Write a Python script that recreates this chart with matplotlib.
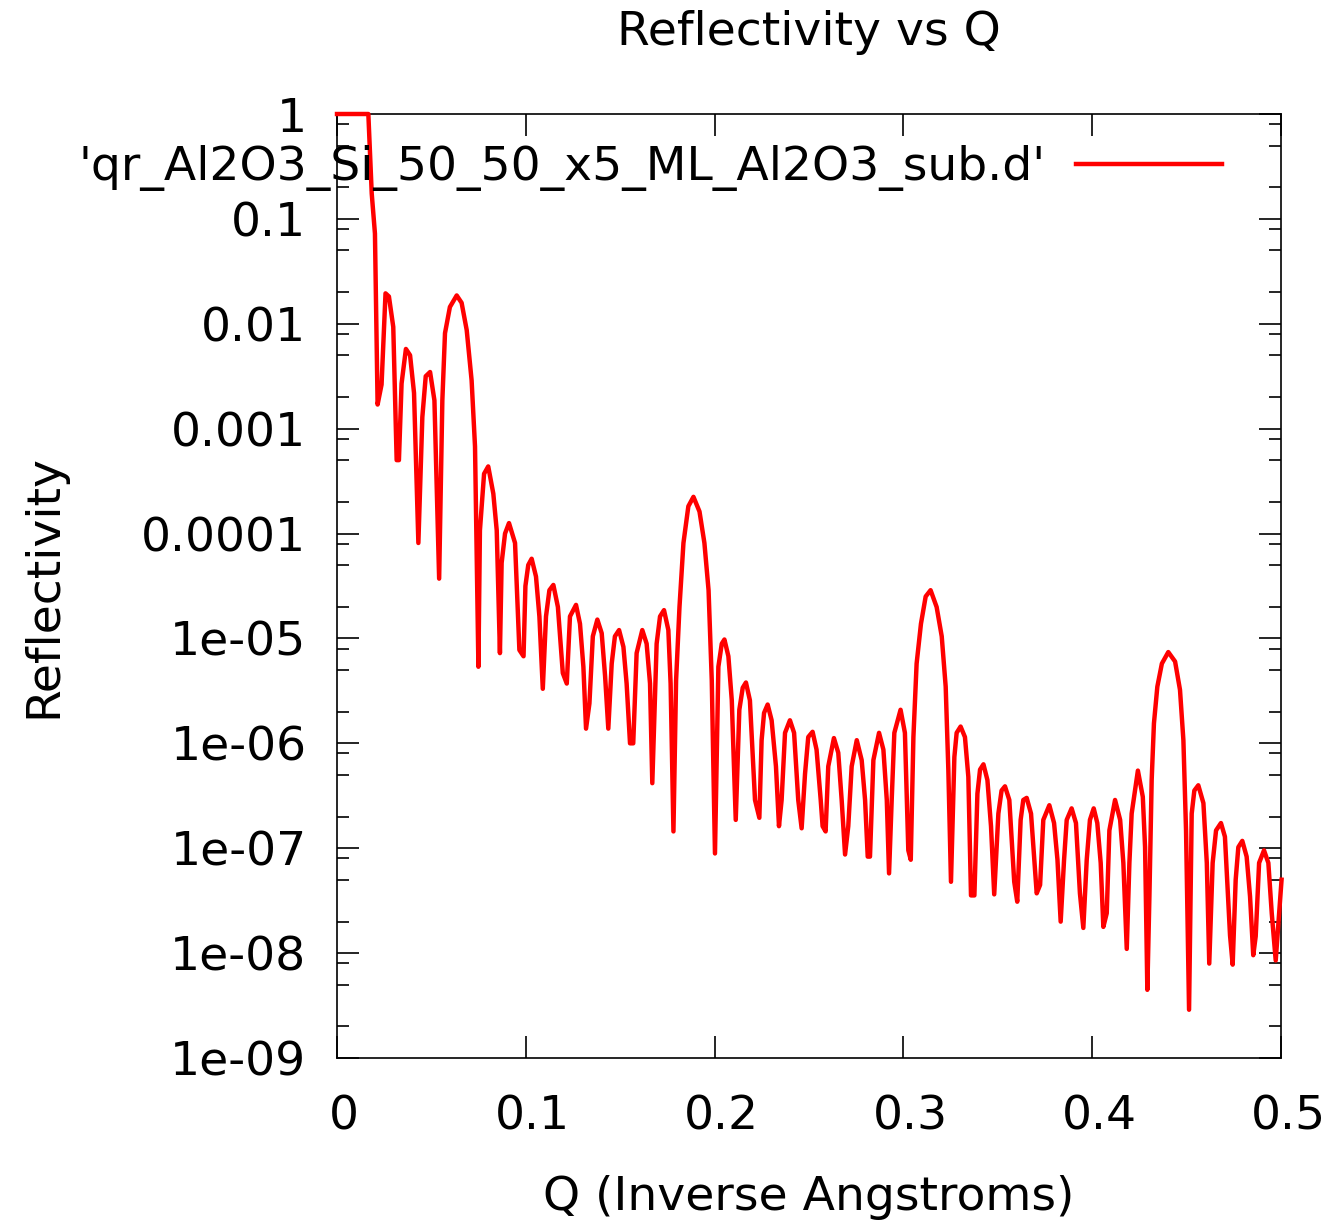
"""
Reflectivity vs Q for the Al2O3/Si multilayer, gnuplot-like look.
"""

import matplotlib
matplotlib.use('Agg')
import matplotlib.pyplot as plt
import matplotlib.ticker as mtick
import matplotlib.transforms as mtrans
import numpy as np

#---------------------------------------
# Data (Q, log10 R)
#---------------------------------------
q = [0.0, 0.0166, 0.0184, 0.0201, 0.0215, 0.0236, 0.0257, 0.0275, 0.0298, 0.0316,
     0.0328, 0.0342, 0.0365, 0.0387, 0.0408, 0.0431, 0.0452, 0.0470, 0.0493, 0.0516,
     0.0541, 0.0558, 0.0572, 0.0598, 0.0634, 0.0660, 0.0687, 0.0713, 0.0731, 0.0749,
     0.0757, 0.0779, 0.0801, 0.0828, 0.0846, 0.0863, 0.0872, 0.0890, 0.0911, 0.0943,
     0.0966, 0.0988, 0.0998, 0.1013, 0.1031, 0.1054, 0.1072, 0.1090, 0.1107, 0.1125,
     0.1146, 0.1170, 0.1196, 0.1217, 0.1234, 0.1266, 0.1287, 0.1305, 0.1319, 0.1337,
     0.1355, 0.1379, 0.1402, 0.1420, 0.1437, 0.1455, 0.1472, 0.1494, 0.1517, 0.1534,
     0.1552, 0.1569, 0.1587, 0.1617, 0.1640, 0.1658, 0.1670, 0.1693, 0.1711, 0.1732,
     0.1755, 0.1767, 0.1782, 0.1796, 0.1814, 0.1835, 0.1861, 0.1888, 0.1920, 0.1946,
     0.1968, 0.1985, 0.2002, 0.2020, 0.2038, 0.2052, 0.2073, 0.2091, 0.2112, 0.2131,
     0.2149, 0.2166, 0.2187, 0.2214, 0.2237, 0.2249, 0.2262, 0.2281, 0.2302, 0.2325,
     0.2341, 0.2355, 0.2373, 0.2399, 0.2421, 0.2443, 0.2461, 0.2479, 0.2496, 0.2519,
     0.2540, 0.2562, 0.2572, 0.2588, 0.2602, 0.2632, 0.2655, 0.2673, 0.2691, 0.2708,
     0.2726, 0.2753, 0.2779, 0.2797, 0.2811, 0.2823, 0.2841, 0.2871, 0.2894, 0.2912,
     0.2924, 0.2938, 0.2952, 0.2985, 0.3008, 0.3026, 0.3039, 0.3053, 0.3070, 0.3093,
     0.3118, 0.3144, 0.3176, 0.3203, 0.3224, 0.3238, 0.3252, 0.3270, 0.3282, 0.3303,
     0.3326, 0.3344, 0.3358, 0.3376, 0.3392, 0.3406, 0.3424, 0.3445, 0.3464, 0.3481,
     0.3503, 0.3520, 0.3538, 0.3561, 0.3587, 0.3603, 0.3621, 0.3635, 0.3653, 0.3676,
     0.3706, 0.3724, 0.3741, 0.3773, 0.3798, 0.3816, 0.3833, 0.3851, 0.3865, 0.3891,
     0.3914, 0.3935, 0.3953, 0.3971, 0.3988, 0.4008, 0.4027, 0.4045, 0.4059, 0.4077,
     0.4091, 0.4121, 0.4148, 0.4165, 0.4183, 0.4197, 0.4209, 0.4242, 0.4268, 0.4280,
     0.4292, 0.4303, 0.4315, 0.4327, 0.4345, 0.4369, 0.4403, 0.4439, 0.4465, 0.4483,
     0.4497, 0.4513, 0.4527, 0.4541, 0.4562, 0.4589, 0.4607, 0.4620, 0.4638, 0.4656,
     0.4682, 0.4703, 0.4730, 0.4744, 0.4760, 0.4774, 0.4795, 0.4818, 0.4836, 0.4853,
     0.4866, 0.4884, 0.4910, 0.4933, 0.4951, 0.4972, 0.5003]

log_r = [0.0, 0.0, -0.76, -1.14, -2.77, -2.58, -1.71, -1.74, -2.03, -3.30,
         -3.30, -2.57, -2.24, -2.30, -2.66, -4.09, -2.89, -2.50, -2.46, -2.73,
         -4.43, -2.73, -2.09, -1.84, -1.73, -1.80, -2.06, -2.54, -3.17, -5.27,
         -3.97, -3.43, -3.36, -3.62, -3.97, -5.14, -4.28, -4.00, -3.90, -4.09,
         -5.11, -5.17, -4.50, -4.30, -4.24, -4.41, -4.79, -5.48, -4.79, -4.54,
         -4.49, -4.70, -5.33, -5.43, -4.79, -4.68, -4.86, -5.27, -5.86, -5.62,
         -4.98, -4.82, -4.95, -5.36, -5.86, -5.24, -4.98, -4.92, -5.08, -5.43,
         -6.00, -6.00, -5.14, -4.92, -5.05, -5.43, -6.38, -5.05, -4.79, -4.73,
         -4.92, -5.43, -6.84, -5.40, -4.70, -4.09, -3.74, -3.65, -3.79, -4.09,
         -4.54, -5.40, -7.05, -5.27, -5.05, -5.01, -5.17, -5.59, -6.73, -5.68,
         -5.47, -5.42, -5.59, -6.54, -6.71, -5.97, -5.71, -5.63, -5.78, -6.22,
         -6.79, -6.54, -5.90, -5.78, -5.90, -6.54, -6.81, -6.29, -5.94, -5.89,
         -6.06, -6.54, -6.79, -6.84, -6.22, -5.95, -6.09, -6.54, -7.06, -6.79,
         -6.22, -5.97, -6.16, -6.54, -7.08, -7.08, -6.16, -5.90, -6.06, -6.54,
         -7.24, -6.54, -5.90, -5.68, -5.90, -7.02, -7.11, -5.94, -5.24, -4.86,
         -4.60, -4.54, -4.70, -4.98, -5.46, -6.25, -7.32, -6.13, -5.90, -5.84,
         -5.94, -6.32, -7.45, -7.45, -6.48, -6.25, -6.20, -6.35, -6.79, -7.44,
         -6.67, -6.45, -6.41, -6.54, -7.32, -7.51, -6.73, -6.54, -6.52, -6.67,
         -7.43, -7.35, -6.73, -6.59, -6.76, -7.11, -7.70, -7.11, -6.73, -6.62,
         -6.76, -7.43, -7.76, -7.11, -6.73, -6.62, -6.76, -7.14, -7.75, -7.62,
         -6.83, -6.54, -6.73, -7.14, -7.96, -7.14, -6.67, -6.26, -6.51, -6.99,
         -8.35, -7.46, -6.35, -5.81, -5.46, -5.24, -5.13, -5.22, -5.49, -5.97,
         -6.83, -8.54, -6.67, -6.45, -6.40, -6.57, -7.14, -8.10, -7.14, -6.83,
         -6.76, -6.89, -7.83, -8.11, -7.30, -6.99, -6.93, -7.08, -7.46, -8.02,
         -7.84, -7.14, -7.02, -7.14, -7.62, -8.07, -7.30]

refl = 10.0 ** np.array(log_r)

y_ticks = [1, 0.1, 0.01, 0.001, 0.0001, 1e-5, 1e-6, 1e-7, 1e-8, 1e-9]
y_labels = ["1", "0.1", "0.01", "0.001", "0.0001", "1e-05", "1e-06", "1e-07", "1e-08", "1e-09"]
x_ticks = [0, 0.1, 0.2, 0.3, 0.4, 0.5]
x_labels = ["0", "0.1", "0.2", "0.3", "0.4", "0.5"]

series_label = "'qr_Al2O3_Si_50_50_x5_ML_Al2O3_sub.d'"

#---------------------------------------
# Plot
#---------------------------------------
plt.rcParams['font.family'] = ['DejaVu Sans']
fs = 34.0

fig = plt.figure(figsize=(13.35, 12.23), dpi=100)
ax = fig.add_axes([337/1335, 165/1223, 944/1335, 944/1223])

line, = ax.plot(q, refl, color='#ff0000', linewidth=3.2, label=series_label, zorder=3)
line.set_clip_on(False)

ax.set_yscale('log')
ax.set_xlim(0, 0.5)
ax.set_ylim(1e-9, 1)

ax.yaxis.set_major_locator(mtick.FixedLocator(y_ticks))
ax.yaxis.set_major_formatter(mtick.FixedFormatter(y_labels))
ax.yaxis.set_minor_locator(mtick.LogLocator(base=10, subs=[2, 5, 8], numticks=20))
ax.yaxis.set_minor_formatter(mtick.NullFormatter())
ax.set_xticks(x_ticks)
ax.set_xticklabels(x_labels)

ax.tick_params(which='both', direction='in', top=True, right=True, color='black', width=1.2)
ax.tick_params(which='major', length=16, labelsize=fs)
ax.tick_params(which='minor', length=8.5)
ax.tick_params(axis='y', pad=22)
ax.tick_params(axis='x', pad=26)
for sp in ax.spines.values():
    sp.set_linewidth(1.2)

# gnuplot puts the x labels a little right of the tick
shift = mtrans.ScaledTranslation(7/100, 0, fig.dpi_scale_trans)
for lab in ax.get_xticklabels():
    lab.set_transform(lab.get_transform() + shift)

ax.set_title('Reflectivity vs Q', fontsize=fs, pad=50)
ax.set_xlabel('Q (Inverse Angstroms)', fontsize=fs, labelpad=26)
ax.set_ylabel('Reflectivity', fontsize=fs, labelpad=54)

ax.legend(loc='center right', bbox_to_anchor=(0.9375, 0.9427), frameon=False,
          fontsize=fs, markerfirst=False, handlelength=3.1, handletextpad=0.63,
          borderaxespad=0, borderpad=0)

plt.savefig('out.png', dpi=100)
